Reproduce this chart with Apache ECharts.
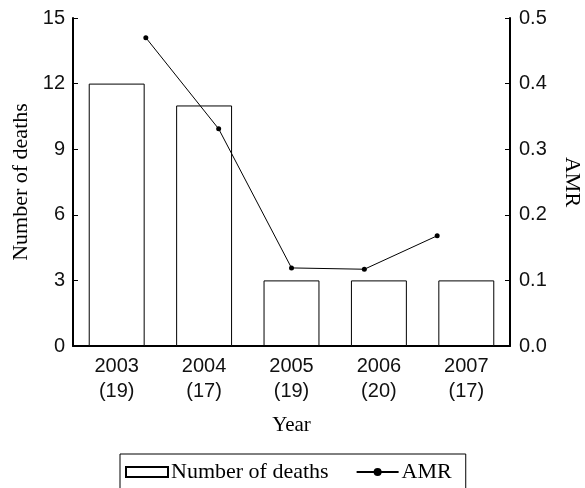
<!DOCTYPE html>
<html>
<head>
<meta charset="utf-8">
<script src="https://cdn.jsdelivr.net/npm/echarts@6/dist/echarts.min.js"></script>
<style>
	html,body{margin:0;padding:0;background:#fff;}
	#chart{width:585px;height:488px;}
</style>
</head>
<body>
<div id="chart"></div>
<script>
var years = ['2003','2004','2005','2006','2007'];
var counts = [19, 17, 19, 20, 17];          // number in brackets under each year
var deaths = [12, 11, 3, 3, 3];
var amr = [0.470, 0.331, 0.119, 0.117, 0.168];
var leftTicks = {min:0, max:15, interval:3};
var rightTicks = {min:0, max:0.5, interval:0.1};

// line points sit on a second (hidden) x scale with 7 slots, ends left empty
var lineSlots = [''].concat(years).concat(['']);
var lineData = [null].concat(amr).concat([null]);

var serif = '"Liberation Serif","Times New Roman",serif';
var sans = '"Liberation Sans",Arial,sans-serif';

function init(){
	var myChart = echarts.init(document.getElementById('chart'));
	myChart.setOption({
		backgroundColor:'#fff',
		animation:false,
		grid:{
			left:73,
			right:75,
			top:18,
			bottom:142,
			outerBoundsMode:'none',
			containLabel:false
		},
		legend:{
			top:454,
			left:120,
			padding:[7,14,12,5],
			borderColor:'#000',
			borderWidth:1,
			itemGap:27,
			itemWidth:42,
			itemHeight:10,
			textStyle:{
				fontFamily:serif,
				fontSize:22,
				color:'#000',
				padding:[0,0,0,-2]
			},
			data:[
				{name:'Number of deaths', icon:'rect'},
				{name:'AMR'}
			]
		},
		xAxis:[
			{
				type:'category',
				data:years,
				name:'Year',
				nameLocation:'middle',
				nameGap:69,
				nameTextStyle:{
					fontFamily:serif,
					fontSize:21,
					color:'#000'
				},
				axisLine:{
					lineStyle:{color:'#000', width:2}
				},
				axisTick:{
					inside:true,
					length:5,
					lineStyle:{color:'#000', width:1}
				},
				axisLabel:{
					fontFamily:sans,
					fontSize:20,
					color:'#111',
					lineHeight:25,
					margin:8,
					formatter:function(v, i){
						return v + '\n(' + counts[i] + ')';
					}
				},
				splitLine:{show:false}
			},
			{
				type:'category',
				data:lineSlots,
				boundaryGap:false,
				show:false
			}
		],
		yAxis:[
			{
				type:'value',
				min:leftTicks.min,
				max:leftTicks.max,
				interval:leftTicks.interval,
				name:'Number of deaths',
				nameLocation:'middle',
				nameGap:38,
				nameTextStyle:{
					fontFamily:serif,
					fontSize:22,
					color:'#000'
				},
				axisLine:{
					show:true,
					lineStyle:{color:'#000', width:2}
				},
				axisTick:{
					show:true,
					inside:true,
					length:5,
					lineStyle:{color:'#000', width:1}
				},
				axisLabel:{
					fontFamily:sans,
					fontSize:20,
					color:'#111',
					margin:8
				},
				splitLine:{show:false}
			},
			{
				type:'value',
				position:'right',
				min:rightTicks.min,
				max:rightTicks.max,
				interval:rightTicks.interval,
				name:'AMR',
				nameLocation:'middle',
				nameRotate:-90,
				nameGap:51,
				nameTextStyle:{
					fontFamily:serif,
					fontSize:22,
					color:'#000'
				},
				axisLine:{
					show:true,
					lineStyle:{color:'#000', width:2}
				},
				axisTick:{
					show:true,
					inside:true,
					length:5,
					lineStyle:{color:'#000', width:1}
				},
				axisLabel:{
					fontFamily:sans,
					fontSize:20,
					color:'#111',
					margin:9,
					formatter:function(v){ return v.toFixed(1); }
				},
				splitLine:{show:false}
			}
		],
		series:[
			{
				name:'Number of deaths',
				type:'bar',
				xAxisIndex:0,
				yAxisIndex:0,
				barWidth:'64%',
				itemStyle:{
					color:'#fff',
					borderColor:'#000',
					borderWidth:1
				},
				data:deaths
			},
			{
				name:'AMR',
				type:'line',
				xAxisIndex:1,
				yAxisIndex:1,
				symbol:'circle',
				symbolSize:5,
				itemStyle:{color:'#000'},
				lineStyle:{color:'#000', width:1},
				data:lineData
			}
		]
	});
}
init();
</script>
</body>
</html>
